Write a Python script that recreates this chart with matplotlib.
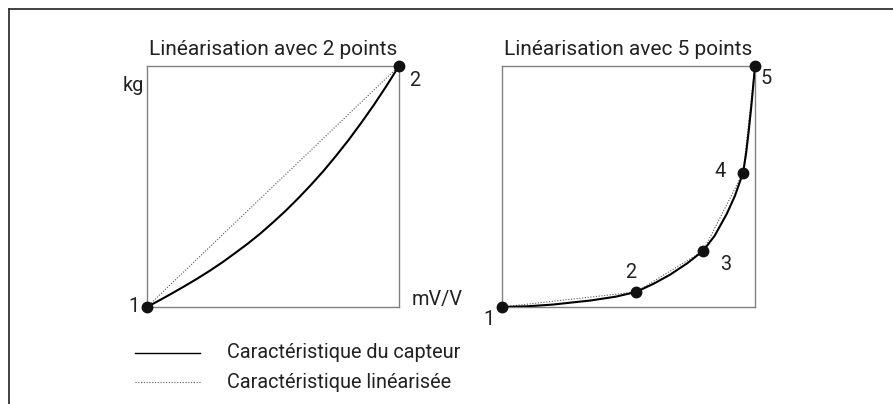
import matplotlib
import matplotlib.pyplot as plt
from matplotlib.lines import Line2D

matplotlib.use("Agg")

plt.rcParams["font.family"] = ["Roboto", "DejaVu Sans"]

# Sensor characteristic (normalised mV/V -> kg), left panel
SENSOR_2_X = [0.0, 0.05, 0.10, 0.15, 0.20, 0.25, 0.30, 0.35, 0.40, 0.45, 0.50,
              0.55, 0.60, 0.65, 0.70, 0.75, 0.80, 0.85, 0.90, 0.95, 1.0]
SENSOR_2_Y = [0.0, 0.028, 0.057, 0.087, 0.118, 0.151, 0.186, 0.224, 0.263,
              0.305, 0.351, 0.399, 0.451, 0.506, 0.564, 0.627, 0.693, 0.764,
              0.838, 0.917, 1.0]
POINTS_2_X = [0.0, 1.0]
POINTS_2_Y = [0.0, 1.0]
LABELS_2 = ["1", "2"]

# Sensor characteristic, right panel (5 linearisation points)
SENSOR_5_X = [0.0, 0.10, 0.20, 0.27, 0.35, 0.45, 0.53, 0.60, 0.664, 0.73, 0.795,
              0.84, 0.888, 0.92, 0.953, 0.965, 0.975, 0.985, 0.993, 1.0]
SENSOR_5_Y = [0.0, 0.003, 0.01, 0.018, 0.027, 0.043, 0.0625, 0.097, 0.134, 0.18,
              0.233, 0.295, 0.386, 0.46, 0.558, 0.64, 0.73, 0.83, 0.92, 1.0]
POINTS_5_X = [0.0, 0.53, 0.795, 0.953, 1.0]
POINTS_5_Y = [0.0, 0.0625, 0.233, 0.558, 1.0]
LABELS_5 = ["1", "2", "3", "4", "5"]

TITLES = ["Linéarisation avec 2 points", "Linéarisation avec 5 points"]
LEGEND = ["Caractéristique du capteur", "Caractéristique linéarisée"]

FS = 14.3
FS_TITLE = 15
INK = "#222222"
BOX = "#808080"
DOT = (0, (1, 1.5))

fig = plt.figure(figsize=(8.93, 4.04), dpi=100)
ax1 = fig.add_axes([0.1646, 0.2401, 0.2822, 0.5965])
ax2 = fig.add_axes([0.5622, 0.2401, 0.2833, 0.5965])


def draw_panel(ax, sx, sy, px, py, title):
    ax.plot(sx, sy, color="black", lw=1.5, solid_capstyle="round",
            solid_joinstyle="round", zorder=3)
    ax.plot(px, py, color="#555555", lw=0.8, ls=DOT, zorder=2)
    ax.plot(px, py, "o", color="#111111", ms=7.5, zorder=4, clip_on=False)
    ax.set_xlim(0, 1)
    ax.set_ylim(0, 1)
    ax.set_xticks([])
    ax.set_yticks([])
    for sp in ax.spines.values():
        sp.set_color(BOX)
        sp.set_linewidth(1.0)
    ax.set_title(title, fontsize=FS_TITLE, pad=8, color=INK)


draw_panel(ax1, SENSOR_2_X, SENSOR_2_Y, POINTS_2_X, POINTS_2_Y, TITLES[0])
draw_panel(ax2, SENSOR_5_X, SENSOR_5_Y, POINTS_5_X, POINTS_5_Y, TITLES[1])

txt = dict(fontsize=FS, color=INK, clip_on=False)

# left panel annotations
ax1.text(-0.01, 0.92, "kg", ha="right", va="center", **txt)
ax1.text(1.05, 0.03, "mV/V", ha="left", va="center", **txt)
ax1.text(-0.03, 0.0, LABELS_2[0], ha="right", va="center", **txt)
ax1.text(1.04, 0.94, LABELS_2[1], ha="left", va="center", **txt)

# right panel annotations
offsets_5 = [(-0.03, -0.05, "right"), (-0.02, 0.08, "center"),
             (0.09, -0.055, "center"), (-0.09, 0.005, "center"),
             (0.02, -0.05, "left")]
for x, y, lab, (dx, dy, ha) in zip(POINTS_5_X, POINTS_5_Y, LABELS_5, offsets_5):
    ax2.text(x + dx, y + dy, lab, ha=ha, va="center", **txt)

# legend drawn by hand below the panels
W, H = 893, 404
fig.add_artist(Line2D([135 / W, 200 / W], [1 - 353 / H, 1 - 353 / H],
                      color="black", lw=1.0))
fig.add_artist(Line2D([135 / W, 200 / W], [1 - 382 / H, 1 - 382 / H],
                      color="#555555", lw=0.8, ls=DOT))
fig.text(227 / W, 1 - 353 / H, LEGEND[0], ha="left", va="center",
         fontsize=FS, color=INK)
fig.text(227 / W, 1 - 382 / H, LEGEND[1], ha="left", va="center",
         fontsize=FS, color=INK)

# outer frame (open at right and bottom)
fig.add_artist(Line2D([9 / W, 9 / W], [0, 1 - 9 / H], color="#333333", lw=1.3))
fig.add_artist(Line2D([9 / W, 1], [1 - 9 / H, 1 - 9 / H], color="#333333", lw=1.3))

fig.savefig("out.png", dpi=100)
